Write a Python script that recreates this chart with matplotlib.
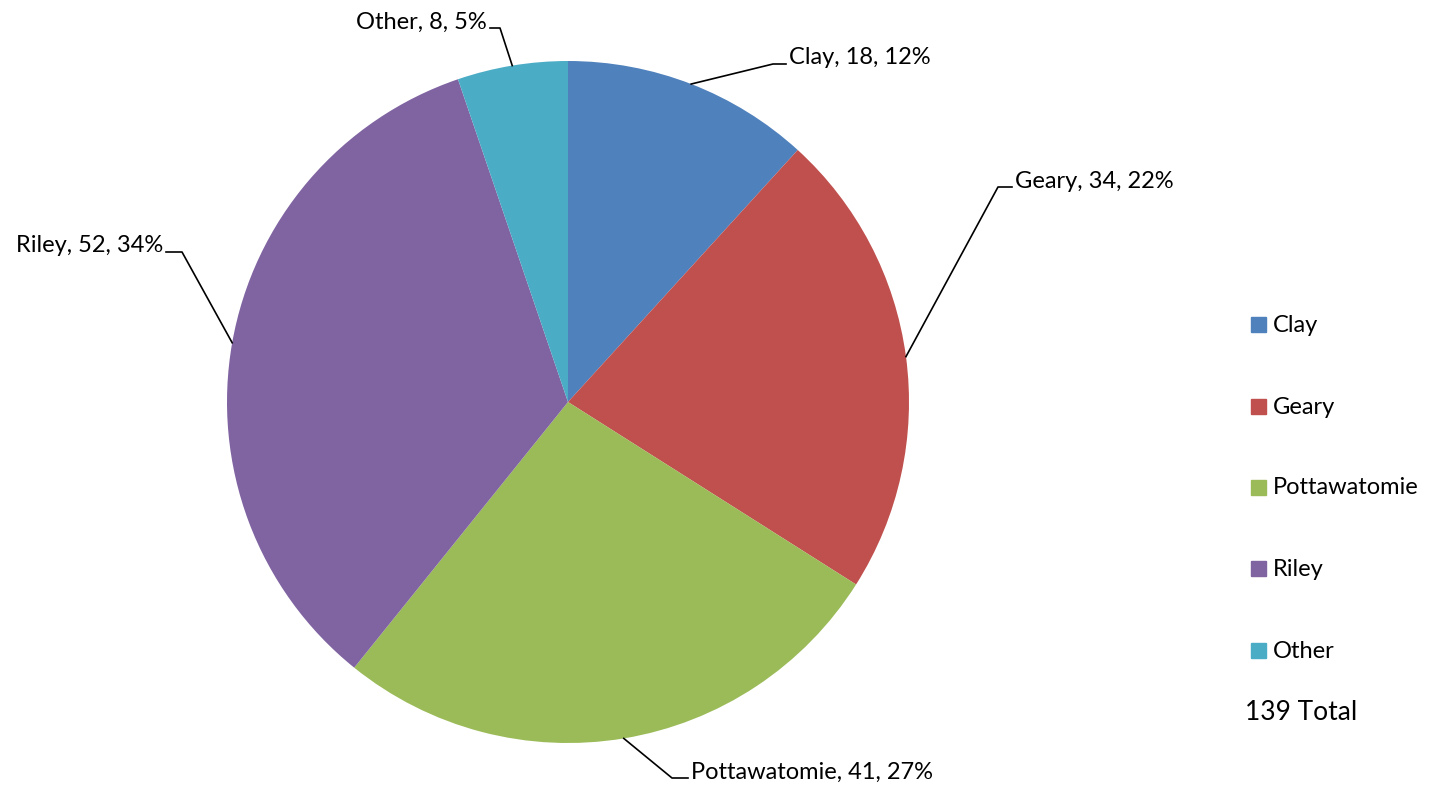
import matplotlib.pyplot as plt
import numpy as np
from matplotlib.patches import Rectangle

# data
categories = ['Clay', 'Geary', 'Pottawatomie', 'Riley', 'Other']
counts = [18, 34, 41, 52, 8]
colors = ['#4F81BD', '#C0504D', '#9BBB59', '#8064A2', '#4BACC6']
total_label = '139 Total'

W, H = 1436, 793
plt.rcParams['font.family'] = ['Lato', 'DejaVu Sans']

fig = plt.figure(figsize=(W / 100, H / 100), dpi=100)
ax = fig.add_axes([0, 0, 1, 1])

cx, cy, r = 568, H - 402, 341
wedges, _ = ax.pie(counts, colors=colors, startangle=90, counterclock=False,
                   center=(cx, cy), radius=r, frame=True,
                   wedgeprops=dict(linewidth=0))
ax.set_xlim(0, W)
ax.set_ylim(0, H)
ax.set_aspect('equal')
ax.axis('off')

# label leader lines: elbow point (pixel coords from top), horizontal tail
elbows = [(773, 64), (998, 187), (672, 778), (182, 252), (500, 28)]
tails = [13, 14, 16, -16, -10]

pcts = np.array(counts) / sum(counts) * 100
for w, name, n, p, (ex, ey), tl in zip(wedges, categories, counts, pcts, elbows, tails):
    mid = np.deg2rad((w.theta1 + w.theta2) / 2)
    sx, sy = cx + r * np.cos(mid), cy + r * np.sin(mid)
    ey = H - ey
    ax.plot([sx, ex, ex + tl], [sy, ey, ey], color='black', lw=1.2)
    ha = 'left' if tl > 0 else 'right'
    tx = ex + tl + (3 if tl > 0 else -3)
    ax.text(tx, ey + 6, f'{name}, {n}, {p:.0f}%', ha=ha, va='center',
            fontsize=17, color='black')

# legend
leg_y = [325, 407, 488, 569, 651]
for name, c, y in zip(categories, colors, leg_y):
    ax.add_patch(Rectangle((1251, H - y - 7), 15, 15, color=c))
    ax.text(1273, H - y, name, ha='left', va='center', fontsize=17)
ax.text(1245, H - 713, total_label, ha='left', va='center', fontsize=19)

fig.savefig('out.png', dpi=100)
